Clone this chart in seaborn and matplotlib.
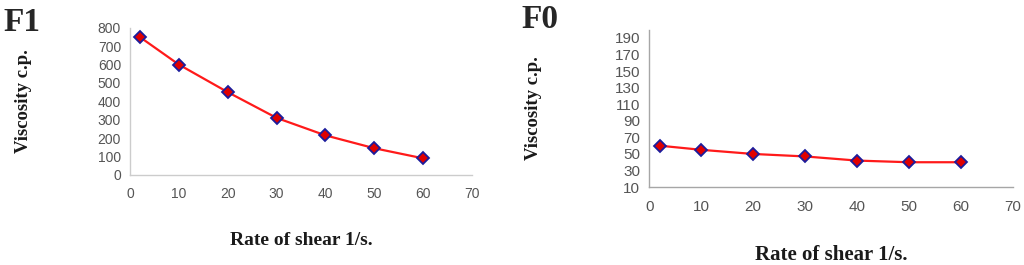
import matplotlib
matplotlib.use('Agg')
import matplotlib.pyplot as plt
import seaborn as sns
import pandas as pd

# Values
shear_rate = [2, 10, 20, 30, 40, 50, 60]
visc_f1 = [750, 600, 450, 310, 215, 145, 90]
visc_f0 = [60, 55, 50, 47, 42, 40, 40]
panel_names = ['F1', 'F0']

sns.set_style('white')
plt.rcParams['font.family'] = ['Liberation Sans', 'DejaVu Sans']

df = pd.DataFrame({'rate': shear_rate, 'F1': visc_f1, 'F0': visc_f0})

fig = plt.figure(figsize=(10.24, 2.65), dpi=100)
ax1 = fig.add_axes([0.127, 0.340, 0.334, 0.555])
ax2 = fig.add_axes([0.634, 0.294, 0.355, 0.594])

serif = {'family': 'Liberation Serif', 'weight': 'bold'}


def draw_panel(ax, col, ylim, yticks, spine_col, tick_size, label_size,
               label_x, label_y):
    """Red line with blue-edged diamonds, excel-like light axes."""
    sns.lineplot(data=df, x='rate', y=col, ax=ax, color='#ff1a1a', linewidth=1.6,
                 marker='D', markersize=6.5, markerfacecolor='#e00000',
                 markeredgecolor='#1c1c9c', markeredgewidth=1.3)
    ax.set_xlim(0, 70)
    ax.set_ylim(*ylim)
    ax.set_xticks(range(0, 71, 10))
    ax.set_yticks(yticks)
    for side in ['top', 'right']:
        ax.spines[side].set_visible(False)
    for side in ['left', 'bottom']:
        ax.spines[side].set_color(spine_col)
        ax.spines[side].set_linewidth(1.0)
    ax.tick_params(axis='both', colors=spine_col, labelcolor='#555555',
                   labelsize=tick_size, length=3, width=0.8, direction='out')
    ax.tick_params(axis='x', pad=6)
    ax.set_xlabel('Rate of shear 1/s.', fontsize=label_size, color='#1a1a1a', **serif)
    ax.set_ylabel('Viscosity c.p.', fontsize=13.5, color='#1a1a1a', **serif)
    ax.xaxis.set_label_coords(0.5, label_x)
    ax.yaxis.set_label_coords(label_y, 0.5)


draw_panel(ax1, 'F1', (0, 800), range(0, 801, 100), '#cccccc', 10, 14, -0.39, -0.287)
draw_panel(ax2, 'F0', (10, 200), range(10, 191, 20), '#a6a6a6', 11, 15, -0.37, -0.295)

fig.text(0.003, 0.975, panel_names[0], fontsize=24, va='top', ha='left', **serif)
fig.text(0.509, 0.985, panel_names[1], fontsize=24, va='top', ha='left', **serif)

fig.savefig('out.png', dpi=100)
